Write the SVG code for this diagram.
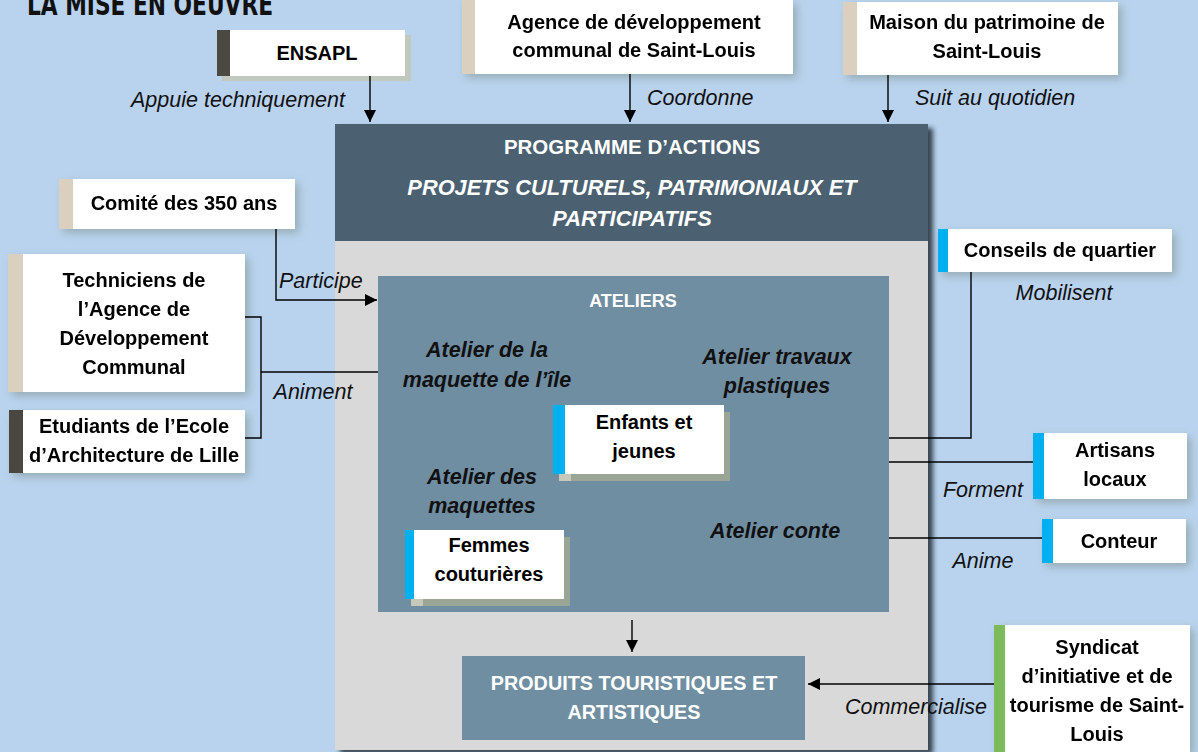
<svg xmlns="http://www.w3.org/2000/svg" width="1198" height="752" viewBox="0 0 1198 752">
<defs>
<marker id="ah" viewBox="0 0 10 10" refX="10" refY="5" markerWidth="12" markerHeight="12" markerUnits="userSpaceOnUse" orient="auto">
<path d="M0,0 L10,5 L0,10 z" fill="#000"/>
</marker>
<filter id="mainsh" x="-5%" y="-5%" width="112%" height="112%">
<feDropShadow dx="5" dy="4" stdDeviation="2.5" flood-color="#1e2b36" flood-opacity="0.85"/>
</filter>
<filter id="soft" x="-10%" y="-20%" width="125%" height="150%">
<feDropShadow dx="4" dy="4" stdDeviation="4" flood-color="#6f7f72" flood-opacity="0.45"/>
</filter>
</defs>
<style>
.bg{fill:#b9d3ee}
.w{fill:#fff}
.tan{fill:#dbcfbf}
.dk{fill:#4a4942}
.bl{fill:#00b0f0}
.gr{fill:#7cbb5b}
.hs{fill:#9ba596}
.t{font-family:"Liberation Sans",Arial,sans-serif;font-weight:bold;font-size:20px;fill:#000;text-anchor:middle}
.lab{font-family:"Liberation Sans",Arial,sans-serif;font-style:italic;font-size:21.5px;fill:#111}
.ai{font-family:"Liberation Sans",Arial,sans-serif;font-style:italic;font-weight:bold;font-size:21.5px;fill:#111;text-anchor:middle}
.wh{font-family:"Liberation Sans",Arial,sans-serif;font-weight:bold;fill:#fff;text-anchor:middle}
.ln{fill:none;stroke:#000;stroke-width:1.4}
</style>
<rect class="bg" x="0" y="0" width="1198" height="752"/>
<text x="27" y="15" font-family="'DejaVu Sans Condensed','Liberation Sans',sans-serif" font-weight="bold" font-size="30" textLength="246" lengthAdjust="spacingAndGlyphs" fill="#111">LA MISE EN OEUVRE</text>

<g id="programme">
<rect x="335" y="124" width="593" height="626" fill="#d9d9d9" filter="url(#mainsh)"/>
<rect x="335" y="124" width="593" height="117" fill="#4b6171"/>
<text class="wh" x="632" y="154" font-size="20.5">PROGRAMME D’ACTIONS</text>
<text class="wh" x="632" y="195" font-size="21.8" font-style="italic">PROJETS CULTURELS, PATRIMONIAUX ET</text>
<text class="wh" x="632" y="226" font-size="21.8" font-style="italic">PARTICIPATIFS</text>
</g>

<g id="ateliers">
<rect x="378" y="276" width="511" height="336" fill="#708ea2"/>
<text class="wh" x="633" y="307" font-size="18">ATELIERS</text>
<text class="ai" x="487" y="357">Atelier de la</text>
<text class="ai" x="487" y="387">maquette de l’île</text>
<text class="ai" x="777" y="364">Atelier travaux</text>
<text class="ai" x="777" y="393">plastiques</text>
<text class="ai" x="482" y="484">Atelier des</text>
<text class="ai" x="482" y="513">maquettes</text>
<text class="ai" x="775" y="538">Atelier conte</text>
</g>

<g id="enfants">
<rect x="559" y="412" width="171" height="69" class="hs"/>
<rect x="559" y="412" width="12" height="69" fill="#c6c9b9"/>
<rect x="553" y="405" width="12" height="69" class="bl"/>
<rect x="565" y="405" width="159" height="69" class="w"/>
<text class="t" x="644" y="429">Enfants et</text>
<text class="t" x="644" y="458">jeunes</text>
</g>

<g id="femmes">
<rect x="411" y="537" width="159" height="69" class="hs"/>
<rect x="411" y="537" width="12" height="69" fill="#c6c9b9"/>
<rect x="405" y="530" width="9" height="69" class="bl"/>
<rect x="414" y="530" width="150" height="69" class="w"/>
<text class="t" x="489" y="552">Femmes</text>
<text class="t" x="489" y="581">couturières</text>
</g>

<g id="produits">
<rect x="462" y="656" width="343" height="84" fill="#708ea2"/>
<text class="wh" x="634" y="690" font-size="19.8">PRODUITS TOURISTIQUES ET</text>
<text class="wh" x="634" y="719" font-size="19.8">ARTISTIQUES</text>
</g>

<g id="ensapl">
<rect x="222" y="35" width="189" height="46" fill="#c1c9bf"/>
<rect x="217" y="30" width="13" height="46" class="dk"/>
<rect x="230" y="30" width="175" height="46" class="w"/>
<text class="t" x="317" y="60">ENSAPL</text>
</g>

<g id="agence" filter="url(#soft)">
<rect x="462" y="0" width="13" height="74" class="tan"/>
<rect x="475" y="0" width="318" height="74" class="w"/>
<text class="t" x="634" y="29">Agence de développement</text>
<text class="t" x="634" y="57">communal de Saint-Louis</text>
</g>

<g id="maison" filter="url(#soft)">
<rect x="843" y="2" width="14" height="73" class="tan"/>
<rect x="857" y="2" width="261" height="73" class="w"/>
<text class="t" x="987" y="29">Maison du patrimoine de</text>
<text class="t" x="987" y="58">Saint-Louis</text>
</g>

<g id="comite" filter="url(#soft)">
<rect x="59" y="179" width="14" height="50" class="tan"/>
<rect x="73" y="179" width="222" height="50" class="w"/>
<text class="t" x="184" y="210">Comité des 350 ans</text>
</g>

<g id="techniciens" filter="url(#soft)">
<rect x="8" y="254" width="15" height="138" class="tan"/>
<rect x="23" y="254" width="222" height="138" class="w"/>
<text class="t" x="134" y="287">Techniciens de</text>
<text class="t" x="134" y="316">l’Agence de</text>
<text class="t" x="134" y="345">Développement</text>
<text class="t" x="134" y="374">Communal</text>
</g>

<g id="etudiants" filter="url(#soft)">
<rect x="9" y="410" width="14" height="63" fill="#4a4640"/>
<rect x="23" y="410" width="222" height="63" class="w"/>
<text class="t" x="134" y="433">Etudiants de l’Ecole</text>
<text class="t" x="134" y="462">d’Architecture de Lille</text>
</g>

<g id="conseils" filter="url(#soft)">
<rect x="938" y="229" width="10" height="43" class="bl"/>
<rect x="948" y="229" width="224" height="43" class="w"/>
<text class="t" x="1060" y="257">Conseils de quartier</text>
</g>

<g id="artisans" filter="url(#soft)">
<rect x="1033" y="433" width="11" height="66" class="bl"/>
<rect x="1044" y="433" width="143" height="66" class="w"/>
<text class="t" x="1115" y="457">Artisans</text>
<text class="t" x="1115" y="486">locaux</text>
</g>

<g id="conteur" filter="url(#soft)">
<rect x="1042" y="519" width="11" height="44" class="bl"/>
<rect x="1053" y="519" width="133" height="44" class="w"/>
<text class="t" x="1119" y="548">Conteur</text>
</g>

<g id="syndicat" filter="url(#soft)">
<rect x="994" y="625" width="11" height="127" class="gr"/>
<rect x="1005" y="625" width="185" height="127" class="w"/>
<text class="t" x="1097" y="654">Syndicat</text>
<text class="t" x="1097" y="683">d’initiative et de</text>
<text class="t" x="1097" y="712">tourisme de Saint-</text>
<text class="t" x="1097" y="741">Louis</text>
</g>

<g id="connectors">
<path class="ln" d="M370,76 V122" marker-end="url(#ah)"/>
<path class="ln" d="M630,74 V122" marker-end="url(#ah)"/>
<path class="ln" d="M888,75 V122" marker-end="url(#ah)"/>
<path class="ln" d="M276,229 V300 H377" marker-end="url(#ah)"/>
<path class="ln" d="M245,317 H261 V438 H245"/>
<path class="ln" d="M261,372 H378"/>
<path class="ln" d="M889,438 H971 V272"/>
<path class="ln" d="M889,462 H1033"/>
<path class="ln" d="M889,538 H1042"/>
<path class="ln" d="M632,620 V652" marker-end="url(#ah)"/>
<path class="ln" d="M994,684 H808" marker-end="url(#ah)"/>
<text class="lab" x="345" y="107" text-anchor="end">Appuie techniquement</text>
<text class="lab" x="647" y="105">Coordonne</text>
<text class="lab" x="915" y="105">Suit au quotidien</text>
<text class="lab" x="279" y="288">Participe</text>
<text class="lab" x="313" y="399" text-anchor="middle">Animent</text>
<text class="lab" x="1064" y="300" text-anchor="middle">Mobilisent</text>
<text class="lab" x="983" y="497" text-anchor="middle">Forment</text>
<text class="lab" x="983" y="568" text-anchor="middle">Anime</text>
<text class="lab" x="916" y="714" text-anchor="middle">Commercialise</text>
</g>
</svg>
